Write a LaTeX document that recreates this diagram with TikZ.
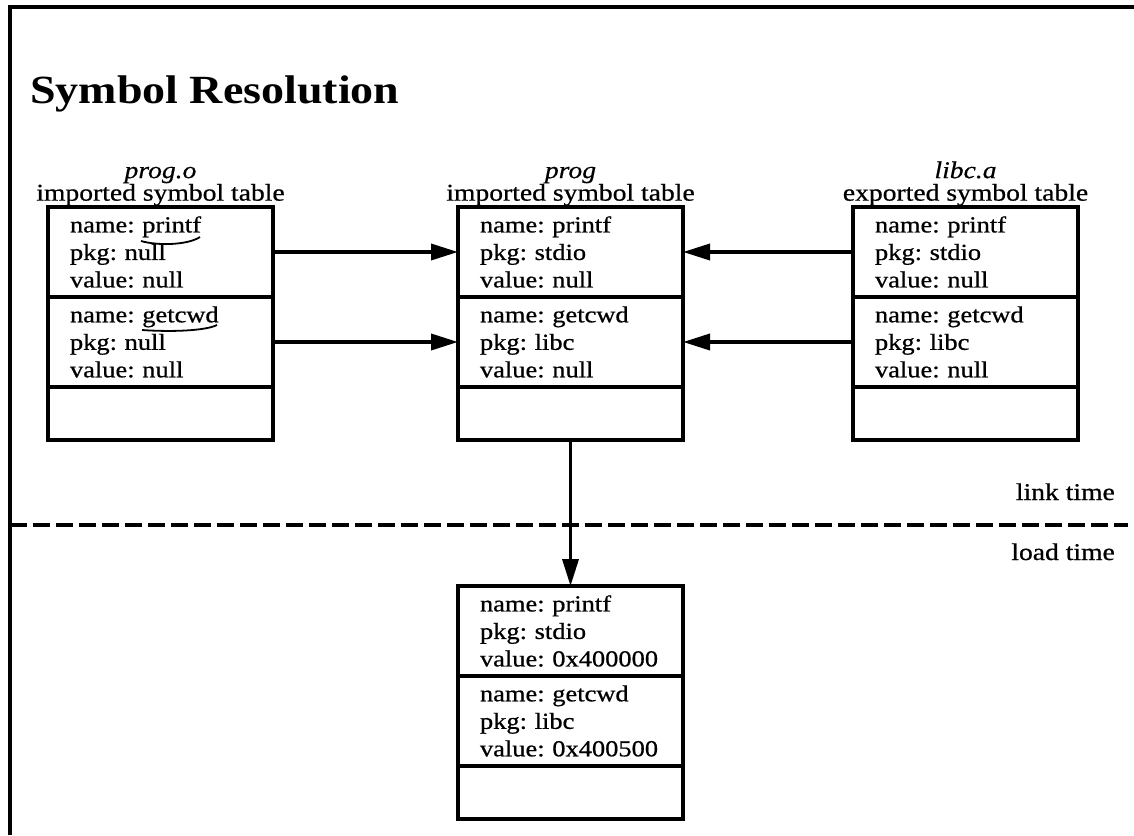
\documentclass[tikz,border=0pt]{standalone}
\usepackage{fontspec}
\setmainfont{Liberation Serif}[FakeStretch=1.15,
  UprightFeatures={FakeBold=0.7}, ItalicFeatures={FakeBold=0.5}]
\frenchspacing
\usetikzlibrary{positioning,arrows.meta}

\tikzset{
  entry/.style={draw, line width=3.2pt, rectangle, outer sep=0pt,
    minimum width=225pt, minimum height=90pt, text width=181pt,
    inner xsep=22pt, align=left, font=\fontsize{23}{27.5}\selectfont},
  spare/.style={draw, line width=3.2pt, rectangle, outer sep=0pt,
    minimum width=225pt, minimum height=53pt},
  head/.style={align=center, inner sep=0pt, font=\fontsize{24}{22.5}\selectfont},
  link/.style={line width=3.6pt, -{Triangle[length=27pt,width=16pt]}},
  phase/.style={anchor=base east, inner sep=0pt, font=\fontsize{24}{24}\selectfont},
}

\begin{document}
\begin{tikzpicture}[x=1pt, y=-1pt]
    \useasboundingbox (0,0) rectangle (1134,835);
    % Rahmen
    \draw[line width=3.5pt] (10,835) -- (10,7) -- (1134,7);
    \node[anchor=base west, inner sep=0pt, font=\fontsize{40}{40}\selectfont\bfseries]
        (title) at (30,103) {Symbol Resolution};

    % prog.o
    \node[entry] (obj1) at (160.5,252) {name: printf\\pkg: null\\value: null};
    \node[entry, below=0pt of obj1] (obj2) {name: getcwd\\pkg: null\\value: null};
    \node[spare, below=0pt of obj2] (obj3) {};
    \node[head, above=1pt of obj1] (objhead) {\textit{prog.o}\\imported symbol table};

    % prog
    \node[entry] (exe1) at (570.5,252) {name: printf\\pkg: stdio\\value: null};
    \node[entry, below=0pt of exe1] (exe2) {name: getcwd\\pkg: libc\\value: null};
    \node[spare, below=0pt of exe2] (exe3) {};
    \node[head, above=1pt of exe1] (exehead) {\textit{prog}\\imported symbol table};

    % libc.a
    \node[entry] (lib1) at (965.5,252) {name: printf\\pkg: stdio\\value: null};
    \node[entry, below=0pt of lib1] (lib2) {name: getcwd\\pkg: libc\\value: null};
    \node[spare, below=0pt of lib2] (lib3) {};
    \node[head, above=1pt of lib1] (libhead) {\textit{libc.a}\\exported symbol table};

    % geladen
    \node[entry] (mem1) at (570.5,631) {name: printf\\pkg: stdio\\value: 0x400000};
    \node[entry, below=0pt of mem1] (mem2) {name: getcwd\\pkg: libc\\value: 0x400500};
    \node[spare, below=0pt of mem2] (mem3) {};

    \draw[link] (obj1) -- (exe1);
    \draw[link] (obj2) -- (exe2);
    \draw[link] (lib1) -- (exe1);
    \draw[link] (lib2) -- (exe2);
    \draw[link] (exe3) -- (mem1);

    % Zeitgrenze
    \draw[line width=4.5pt, dash pattern=on 17pt off 6pt] (10,525) -- (1128,525);
    \node[phase] (linkt) at (1115,500) {link time};
    \node[phase] (loadt) at (1115,560) {load time};

    % Handnotizen
    \draw[line width=1.8pt] (141,241) .. controls (158,246) and (188,245) .. (200,237);
    \draw[line width=1.8pt] (142,330) .. controls (170,332) and (205,331) .. (217,325);
\end{tikzpicture}
\end{document}
